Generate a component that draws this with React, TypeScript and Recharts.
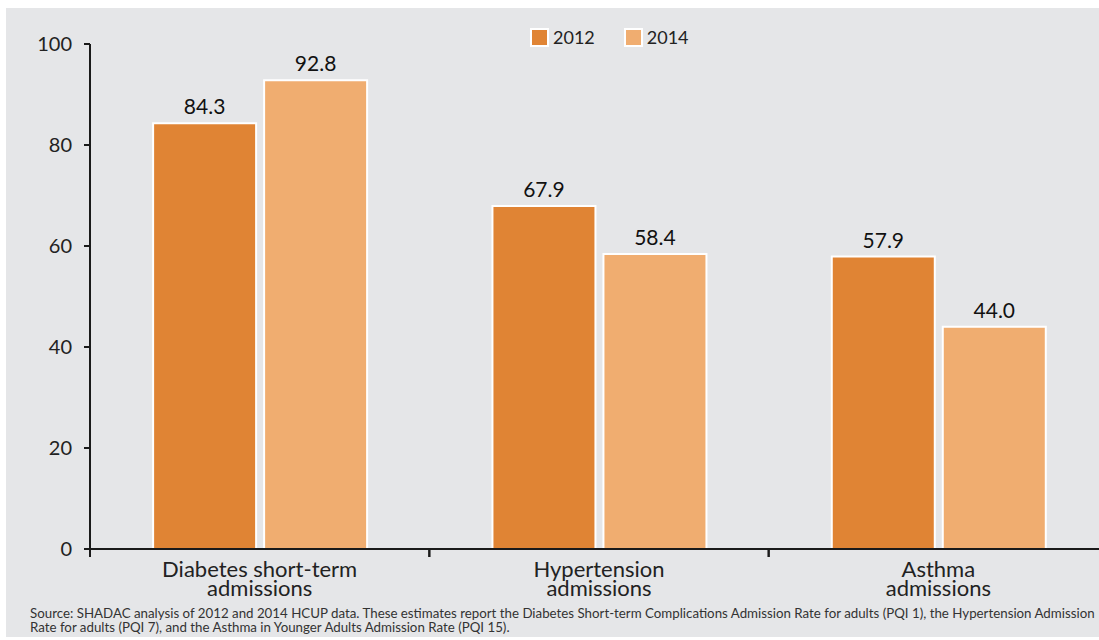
import React from "react";
import { BarChart, Bar, XAxis, YAxis, LabelList } from "recharts";

const categories = ["Diabetes short-term|admissions", "Hypertension|admissions", "Asthma|admissions"];
const values2012 = [84.3, 67.9, 57.9];
const values2014 = [92.8, 58.4, 44.0];
const yTicks = [0, 20, 40, 60, 80, 100];
const seriesNames = ["2012", "2014"];
const seriesColors = ["#e08434", "#f0ad70"];

const FONT = "Lato, 'Open Sans', sans-serif";
const CHART_W = 1102;
const CHART_H = 629;
const Y_W = 84;
const MARGIN = { top: 36, right: 0, bottom: 28, left: 0 };

const data = categories.map((name, i) => ({
  name,
  y2012: values2012[i],
  y2014: values2014[i],
}));

const bandW = (CHART_W - Y_W - MARGIN.left - MARGIN.right) / categories.length;

const CategoryTick = (props: any) => {
  const { x, y, payload } = props;
  const lines = String(payload.value).split("|");
  return (
    <g>
      <line x1={x - bandW / 2} x2={x - bandW / 2} y1={y} y2={y + 8} stroke="#1a1a1a" strokeWidth={2} />
      <line x1={x + bandW / 2} x2={x + bandW / 2} y1={y} y2={y + 8} stroke="#1a1a1a" strokeWidth={2} />
      {lines.map((l, i) => (
        <text key={i} x={x} y={y + 28 + i * 19} textAnchor="middle" fontSize={22} fontFamily={FONT} fill="#222">
          {l}
        </text>
      ))}
    </g>
  );
};

const LegendBox = () => (
  <div
    style={{
      position: "absolute",
      left: 524,
      top: 18,
      display: "flex",
      alignItems: "center",
      fontFamily: FONT,
      fontSize: 18,
      color: "#222",
    }}
  >
    {seriesNames.map((n, i) => (
      <div key={n} style={{ display: "flex", alignItems: "center", marginRight: 29 }}>
        <span
          style={{
            display: "inline-block",
            width: 15,
            height: 15,
            background: seriesColors[i],
            border: "2px solid #fff",
            marginRight: 4,
          }}
        />
        <span>{n}</span>
      </div>
    ))}
  </div>
);

const App = () => {
  return (
    <div
      style={{
        position: "fixed",
        left: 6,
        top: 8,
        width: 1093,
        height: 629,
        overflow: "hidden",
        background: "#e5e6e8",
      }}
    >
      <BarChart width={CHART_W} height={CHART_H} data={data} margin={MARGIN} barCategoryGap="18.6%" barGap={8}>
        <XAxis
          dataKey="name"
          axisLine={{ stroke: "#1a1a1a", strokeWidth: 2 }}
          tickLine={false}
          tickSize={0}
          tickMargin={0}
          height={60}
          interval={0}
          tick={<CategoryTick />}
        />
        <YAxis
          width={Y_W}
          domain={[0, 100]}
          ticks={yTicks}
          axisLine={{ stroke: "#1a1a1a", strokeWidth: 2 }}
          tickLine={{ stroke: "#1a1a1a", strokeWidth: 2 }}
          tickSize={6}
          tickMargin={12}
          tick={{ fontSize: 20, fontFamily: FONT, fill: "#222" }}
        />
        <Bar dataKey="y2012" name={seriesNames[0]} fill={seriesColors[0]} stroke="#fff" strokeWidth={2} isAnimationActive={false}>
          <LabelList
            dataKey="y2012"
            position="top"
            offset={9}
            formatter={(v: any) => Number(v).toFixed(1)}
            style={{ fontSize: 21, fontFamily: FONT, fill: "#111" }}
          />
        </Bar>
        <Bar dataKey="y2014" name={seriesNames[1]} fill={seriesColors[1]} stroke="#fff" strokeWidth={2} isAnimationActive={false}>
          <LabelList
            dataKey="y2014"
            position="top"
            offset={9}
            formatter={(v: any) => Number(v).toFixed(1)}
            style={{ fontSize: 21, fontFamily: FONT, fill: "#111" }}
          />
        </Bar>
      </BarChart>
      <LegendBox />
      <div
        style={{
          position: "absolute",
          left: 24,
          top: 598,
          fontFamily: FONT,
          fontSize: 13.3,
          lineHeight: "14px",
          color: "#333",
          whiteSpace: "nowrap",
        }}
      >
        Source: SHADAC analysis of 2012 and 2014 HCUP data. These estimates report the Diabetes Short-term Complications Admission Rate for adults (PQI 1), the Hypertension Admission
        <br />
        Rate for adults (PQI 7), and the Asthma in Younger Adults Admission Rate (PQI 15).
      </div>
    </div>
  );
};

export default App;
